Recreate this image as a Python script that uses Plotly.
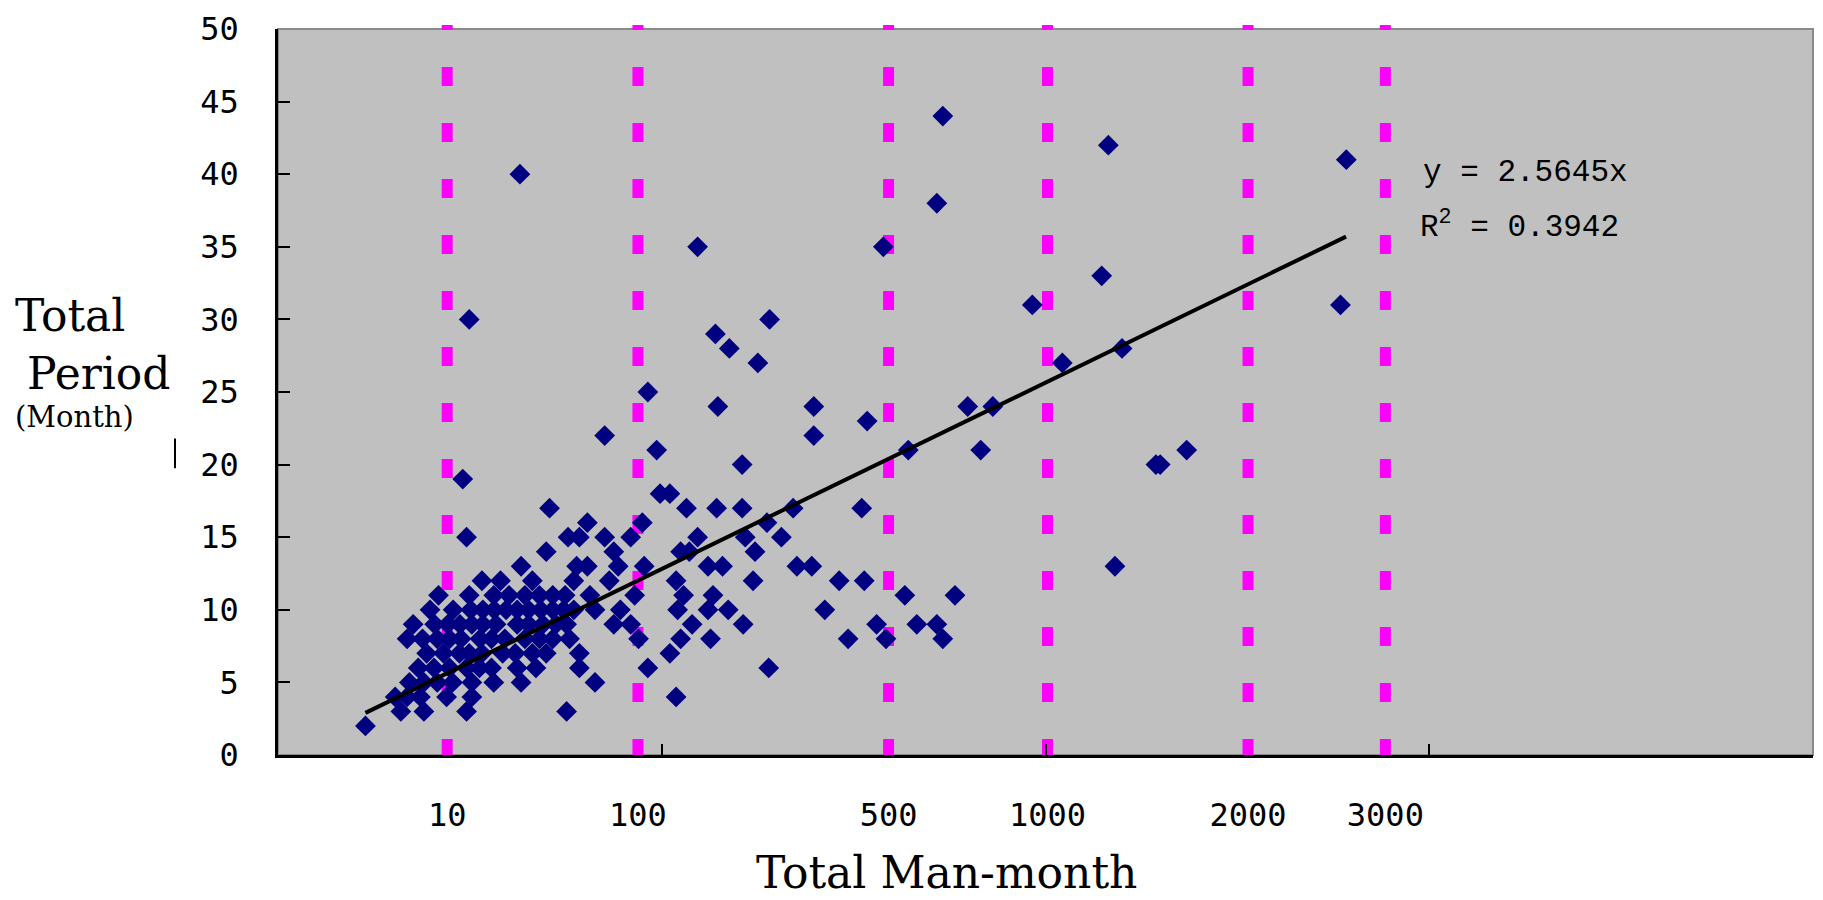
import plotly.graph_objects as go

# ---------------- data ----------------
# x: Total Man-month (position on the chart's log axis), y: Total Period (Month)
upper_x = [42.7, 31.5, 124, 191, 138, 150, 178, 92, 140, 249, 249, 71, 97]
upper_y = [40, 30, 35, 30, 29, 28, 27, 25, 24, 24, 22, 22, 21]

right_x = [540, 1458, 6080, 521, 378, 1401, 924, 5870, 1583, 1106, 627, 729, 343,
           439, 678, 1940, 1990, 2333, 332, 1517, 290, 337, 266, 430, 581, 363,
           462, 521, 306, 384, 540]
right_y = [44, 42, 41, 38, 35, 33, 31, 31, 28, 27, 24, 24, 23,
           21, 21, 20, 20, 21, 17, 13, 12, 12, 10, 11, 11, 9,
           9, 9, 8, 8, 8]

middle_x = [162, 99, 105, 116, 139, 162, 64, 89, 124, 188, 220, 205, 71, 75, 83,
            112, 118, 165, 175, 132, 144, 225, 246, 90, 77, 64, 73, 85, 65, 67, 78,
            75, 83, 87, 61, 61, 67, 92, 109, 109, 114, 110, 120, 112, 105, 136, 132,
            149, 163, 134, 190, 173]
middle_y = [20, 18, 18, 17, 17, 17, 16, 16, 15, 16, 17, 15, 15, 14, 15,
            14, 14, 15, 14, 13, 13, 13, 13, 13, 13, 13, 12, 11, 11, 10, 10,
            9, 9, 8, 7, 6, 5, 6, 4, 12, 11, 10, 9, 8, 7, 11, 10,
            10, 9, 8, 6, 12]

left_x = [30.3, 31, 51, 57, 61, 50, 43, 60, 59, 46, 34, 38]
left_y = [19, 15, 17, 15, 15, 14, 13, 13, 12, 12, 12, 12]

# dense cluster, one list of man-month values per period row
cluster_rows = {
    11: [26.2, 31.5, 36.5, 40.0, 44.0, 48.0, 52.0, 56.0],
    10: [24.9, 28.6, 31.8, 34.2, 36.6, 39.3, 42.0, 45.0, 48.4, 52.0, 55.5, 59.0],
    9: [22.5, 25.6, 27.7, 29.8, 32.0, 34.2, 37.0, 42.0, 45.0, 49.0, 53.0, 56.5],
    8: [21.7, 23.8, 26.0, 28.0, 30.0, 33.6, 36.0, 39.0, 44.0, 48.0, 52.0, 57.5],
    7: [24.4, 27.0, 29.7, 31.5, 34.0, 38.5, 41.5, 46.0, 50.0],
    6: [23.2, 25.5, 28.0, 31.0, 33.5, 36.0, 42.0, 47.0],
    5: [22.0, 24.0, 26.0, 28.5, 32.0, 36.5, 43.0],
    4: [20.2, 21.7, 23.5, 27.5, 32.0],
    3: [20.9, 24.0, 31.0, 56.5],
    2: [16.9],
}

man_month = upper_x + right_x + middle_x + left_x
period = upper_y + right_y + middle_y + left_y
for row_period, row_values in cluster_rows.items():
    man_month += row_values
    period += [row_period] * len(row_values)

# trend line end points
trend_x = [16.9, 6070]
trend_y = [2.9, 35.7]

# dashed guide lines and their labels
guide_x = [27.6, 86.7, 390, 1012, 3371, 7685]
guide_labels = ["10", "100", "500", "1000", "2000", "3000"]
axis_ticks_x = [100, 1000, 10000]
y_ticks = [0, 5, 10, 15, 20, 25, 30, 35, 40, 45, 50]

equation = "y = 2.5645x"
r_squared = "R<sup>2</sup> = 0.3942"

# ---------------- layout geometry ----------------
FIG_W, FIG_H = 1823, 900
L, R, T, B = 278, 10, 23, 145
PW, PH = FIG_W - L - R, FIG_H - T - B


def px_x(px):
    return (px - L) / PW


def px_y(py):
    return (FIG_H - B - py) / PH


MONO = "DejaVu Sans Mono"
SERIF = "DejaVu Serif"

fig = go.Figure()

fig.add_trace(go.Scatter(
    x=man_month, y=period, mode="markers",
    marker=dict(symbol="diamond", size=16, color="#000080",
                line=dict(width=0)),
    showlegend=False, hoverinfo="x+y",
))
fig.add_trace(go.Scatter(
    x=trend_x, y=trend_y, mode="lines",
    line=dict(color="black", width=4),
    showlegend=False, hoverinfo="skip",
))

shapes = []
shapes.append(dict(type="rect", xref="paper", yref="paper", x0=0, x1=1, y0=0, y1=1,
                   line=dict(color="#8a8a8a", width=2), fillcolor="rgba(0,0,0,0)",
                   layer="below"))
for g in guide_x:
    shapes.append(dict(type="line", xref="x", yref="paper", x0=g, x1=g,
                       y0=px_y(758), y1=px_y(19),
                       line=dict(color="#ff00ff", width=11, dash="19px,37px"),
                       layer="below"))
shapes.append(dict(type="line", xref="paper", yref="paper",
                   x0=px_x(175), x1=px_x(175), y0=px_y(436), y1=px_y(466),
                   line=dict(color="black", width=2)))

annotations = [
    dict(text="Total Man-month", xref="paper", yref="paper",
         x=px_x(946), y=px_y(873), xanchor="center", yanchor="middle",
         showarrow=False, font=dict(family=SERIF, size=44, color="black")),
    dict(text="Total", xref="paper", yref="paper",
         x=px_x(13), y=px_y(312), xanchor="left", yanchor="middle",
         showarrow=False, font=dict(family=SERIF, size=44, color="black")),
    dict(text="Period", xref="paper", yref="paper",
         x=px_x(25), y=px_y(370), xanchor="left", yanchor="middle",
         showarrow=False, font=dict(family=SERIF, size=44, color="black")),
    dict(text="(Month)", xref="paper", yref="paper",
         x=px_x(13), y=px_y(414), xanchor="left", yanchor="middle",
         showarrow=False, font=dict(family=SERIF, size=29, color="black")),
    dict(text=equation, xref="paper", yref="paper",
         x=px_x(1421), y=px_y(168), xanchor="left", yanchor="middle",
         showarrow=False, font=dict(family="Liberation Mono", size=31, color="black")),
    dict(text=r_squared, xref="paper", yref="paper",
         x=px_x(1418), y=px_y(221), xanchor="left", yanchor="middle",
         showarrow=False, font=dict(family="Liberation Mono", size=31, color="black")),
]

fig.update_layout(
    width=FIG_W, height=FIG_H,
    margin=dict(l=L, r=R, t=T, b=B, pad=0),
    paper_bgcolor="white", plot_bgcolor="#c0c0c0",
    showlegend=False,
    shapes=shapes, annotations=annotations,
    xaxis=dict(
        type="log", range=[1, 5], showgrid=False, zeroline=False,
        tickmode="array", tickvals=guide_x, ticktext=guide_labels,
        ticks="", ticklabelstandoff=30,
        tickfont=dict(family=MONO, size=32, color="black"),
        showline=True, linecolor="black", linewidth=2.5,
        minor=dict(tickmode="array", tickvals=axis_ticks_x, ticks="inside",
                   ticklen=11, tickwidth=2, tickcolor="black", showgrid=False),
    ),
    yaxis=dict(
        range=[0, 50], showgrid=False, zeroline=False,
        tickmode="array", tickvals=y_ticks,
        ticks="inside", ticklen=12, tickwidth=2, tickcolor="black",
        ticklabelstandoff=30,
        tickfont=dict(family=MONO, size=32, color="black"),
        showline=True, linecolor="black", linewidth=2.5,
    ),
)

fig.write_html(
    "out.html",
    config={"displayModeBar": False},
    post_script="document.body.style.margin='0';document.body.style.overflow='hidden';",
)
